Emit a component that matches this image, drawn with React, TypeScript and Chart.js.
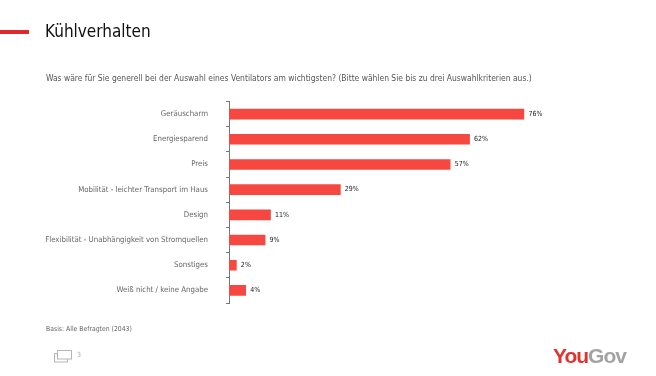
import React, { useEffect, useRef } from "react";
import { Chart, registerables } from "chart.js";

Chart.register(...registerables);

const categories = [
  "Geräuscharm",
  "Energiesparend",
  "Preis",
  "Mobilität - leichter Transport im Haus",
  "Design",
  "Flexibilität - Unabhängigkeit von Stromquellen",
  "Sonstiges",
  "Weiß nicht / keine Angabe",
];
const values = [76, 62, 57, 28.7, 10.7, 9.3, 1.9, 4.3];
const FONT = "'DejaVu Sans Condensed', 'DejaVu Sans', sans-serif";

const valueLabels = {
  id: "valueLabels",
  afterDatasetsDraw(chart: any) {
    const { ctx } = chart;
    const meta = chart.getDatasetMeta(0);
    ctx.save();
    ctx.font = `7px ${FONT}`;
    ctx.fillStyle = "#222222";
    ctx.textAlign = "left";
    ctx.textBaseline = "middle";
    meta.data.forEach((bar: any, i: number) => {
      ctx.fillText(`${Math.round(values[i])}%`, bar.x + 4.5, bar.y);
    });
    ctx.restore();
  },
};

const abs = (s: React.CSSProperties): React.CSSProperties => ({
  position: "absolute",
  whiteSpace: "nowrap",
  fontFamily: FONT,
  ...s,
});

export default function App() {
  const ref = useRef<HTMLCanvasElement>(null);
  useEffect(() => {
    const chart = new Chart(ref.current!, {
      type: "bar",
      data: {
        labels: categories,
        datasets: [
          {
            data: values,
            backgroundColor: "#f64740",
            barThickness: 10,
          },
        ],
      },
      options: {
        indexAxis: "y",
        animation: false,
        responsive: false,
        layout: { padding: { top: 101.5, bottom: 73, left: 0, right: 39 } },
        plugins: { legend: { display: false }, tooltip: { enabled: false } },
        scales: {
          x: { display: false, min: 0, max: 100 },
          y: {
            afterFit: (s: any) => {
              s.width = 229;
            },
            border: { color: "#777777", width: 1 },
            grid: { drawOnChartArea: false, color: "#777777", tickLength: 3 },
            ticks: {
              color: "#666666",
              padding: 18,
              autoSkip: false,
              font: { family: FONT, size: 7.8 },
            },
          },
        },
      },
      plugins: [valueLabels],
    } as any);
    return () => chart.destroy();
  }, []);

  return (
    <div style={{ position: "fixed", left: 0, top: 0, width: 656, height: 376, background: "#fff", overflow: "hidden" }}>
      <canvas ref={ref} width={656} height={376} style={{ position: "absolute", left: 0, top: 0, display: "block" }} />
      <div style={abs({ left: 0, top: 30, width: 29, height: 4, background: "#dc2a2e" })} />
      <div style={abs({ left: 45, top: 21, fontSize: 17, lineHeight: "21px", color: "#111" })}>Kühlverhalten</div>
      <div style={abs({ left: 46, top: 73, fontSize: 8.45, lineHeight: "11px", color: "#555" })}>
        Was wäre für Sie generell bei der Auswahl eines Ventilators am wichtigsten? (Bitte wählen Sie bis zu drei Auswahlkriterien aus.)
      </div>
      <div style={abs({ left: 46, top: 324, fontSize: 6.8, lineHeight: "10px", color: "#666" })}>Basis: Alle Befragten (2043)</div>
      <svg style={{ position: "absolute", left: 54, top: 350 }} width={19} height={13} fill="#fff" stroke="#b5b5b5" strokeWidth={1}>
        <rect x={0.5} y={3.5} width={13} height={8.5} />
        <rect x={3.5} y={0.5} width={14} height={8.5} />
      </svg>
      <div style={abs({ left: 77, top: 350, fontSize: 7, lineHeight: "10px", color: "#aaa" })}>3</div>
      <div style={abs({ left: 553, top: 343, fontSize: 21, lineHeight: "26px", fontWeight: 700, letterSpacing: -1, fontFamily: "'Liberation Sans', sans-serif" })}>
        <span style={{ color: "#e2312d" }}>You</span>
        <span style={{ color: "#a3a3a3" }}>Gov</span>
      </div>
    </div>
  );
}
